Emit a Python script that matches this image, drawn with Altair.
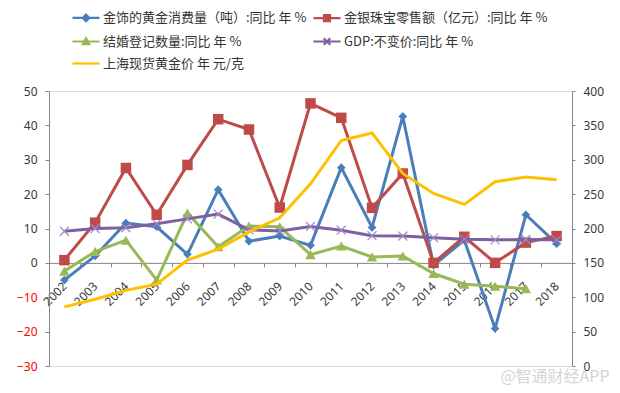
import altair as alt
import pandas as pd

years = [str(y) for y in range(2002, 2019)]
series_names = [
    "金饰的黄金消费量（吨）:同比 年 %",
    "金银珠宝零售额（亿元）:同比 年 %",
    "结婚登记数量:同比 年 %",
    "GDP:不变价:同比 年 %",
    "上海现货黄金价 年 元/克",
]
gold_jewelry = [-5.0, 2.0, 11.6, 10.5, 2.5, 21.3, 6.3, 7.8, 5.1, 27.7, 10.3, 42.6, -0.7, 6.6, -19.1, 14.0, 5.6]
jewelry_retail = [0.8, 11.7, 27.6, 14.0, 28.5, 41.8, 38.8, 16.1, 46.4, 42.2, 16.0, 26.0, 0.0, 7.6, 0.0, 5.9, 7.8]
marriage = [-2.4, 3.3, 6.6, -5.0, 14.5, 4.7, 10.7, 10.5, 2.4, 4.9, 1.7, 2.0, -3.1, -6.2, -6.8, -7.5, None]
gdp = [9.2, 10.0, 10.2, 11.4, 12.8, 14.2, 9.6, 9.3, 10.6, 9.5, 7.9, 7.8, 7.3, 6.9, 6.7, 6.8, 6.7]
gold_price = [86, 97, 110, 119, 154, 170, 195, 215.5, 265, 328, 339, 280, 251, 235, 268, 275, 271]

colors = ["#4A7EBB", "#BE4B48", "#98B954", "#7D60A0", "#FFC000"]
marker_shapes = ["diamond", "square", "triangle-up", "M-1,-1L1,1M-1,1L1,-1"]
marker_sizes = [75, 110, 110, 80]
legend_paths = [
    "M-4.5,0L4.5,0M0,-1.1L1.1,0L0,1.1L-1.1,0Z",
    "M-4.5,0L4.5,0M-1,-1L1,-1L1,1L-1,1Z",
    "M-4.5,0L4.5,0M-1.1,0.9L1.1,0.9L0,-1.1Z",
    "M-4.5,0L4.5,0M-1.1,-1.1L1.1,1.1M-1.1,1.1L1.1,-1.1",
    "M-4.5,0L4.5,0",
]
# legend grid fills column by column: order entries so rows read like the reference
legend_order = [0, 2, 4, 1, 3]
leg_domain = [series_names[k] for k in legend_order]
leg_colors = [colors[k] for k in legend_order]
leg_paths = [legend_paths[k] for k in legend_order]

left_values = [gold_jewelry, jewelry_retail, marriage, gdp]
rows = []
for name, vals in zip(series_names[:4], left_values):
    for yr, v in zip(years, vals):
        rows.append({"year": yr, "series": name, "value": v})
df = pd.DataFrame(rows)
price_df = pd.DataFrame({"year": years, "price": gold_price})

FONT_NUM = "Noto Sans"
FONT_CJK = "Noto Sans CJK SC"
AX = "#868686"

x_axis = alt.Axis(
    title=None, labelAngle=-45, labelAlign="right", labelBaseline="middle",
    tickBand="extent", offset=-103.125, tickSize=4, tickColor=AX, domainColor=AX,
    labelPadding=17, labelFontSize=12, labelFont=FONT_NUM, labelColor="#383838", grid=False,
)
x_enc = alt.X("year:O", scale=alt.Scale(domain=years, paddingInner=0, paddingOuter=0), axis=x_axis)

left_axis = alt.Axis(
    title=None, values=list(range(-30, 51, 10)), tickSize=4, tickColor=AX, domainColor=AX,
    labelPadding=8, labelFontSize=12, labelFont=FONT_NUM, grid=False,
    labelColor=alt.ExprRef(expr="datum.value < 0 ? '#FF0000' : '#383838'"),
)
y_enc = alt.Y("value:Q", scale=alt.Scale(domain=[-30, 50], nice=False, zero=False), axis=left_axis)

layers = []
for i, name in enumerate(series_names[:4]):
    base = alt.Chart(df).transform_filter(alt.datum.series == name)
    line = base.mark_line(strokeWidth=3, color=colors[i]).encode(x=x_enc, y=y_enc)
    layers.append(line)
    if i < 3:
        pts = base.mark_point(shape=marker_shapes[i], size=marker_sizes[i], filled=True, opacity=1,
                              color=colors[i]).encode(x=x_enc, y=y_enc)
    else:
        pts = base.mark_point(shape=marker_shapes[i], size=marker_sizes[i], filled=False, opacity=1,
                              stroke="#9C8BC8", strokeWidth=1.2).encode(x=x_enc, y=y_enc)
    layers.append(pts)

leg_kw = dict(
    title=None, orient="none", legendX=30.5, legendY=-80, columns=2,
    symbolSize=36, symbolStrokeWidth=2.2, labelFontSize=13, labelFont=FONT_CJK,
    labelColor="#333333", labelOffset=10.5, columnPadding=2, rowPadding=7, padding=0, labelLimit=400,
)
legend_layer = alt.Chart(df).transform_filter("false").mark_point(filled=True, opacity=1).encode(
    color=alt.Color("series:N", scale=alt.Scale(domain=leg_domain, range=leg_colors), legend=alt.Legend(**leg_kw)),
    stroke=alt.Stroke("series:N", scale=alt.Scale(domain=leg_domain, range=leg_colors), legend=alt.Legend(**leg_kw)),
    shape=alt.Shape("series:N", scale=alt.Scale(domain=leg_domain, range=leg_paths), legend=alt.Legend(**leg_kw)),
)
layers.append(legend_layer)

left = alt.layer(*layers)

right_axis = alt.Axis(
    title=None, orient="right", values=list(range(0, 401, 50)), tickSize=3, tickColor=AX,
    domainColor=AX, labelPadding=8, labelFontSize=12, labelFont=FONT_NUM, labelColor="#383838", grid=False,
)
price_line = alt.Chart(price_df).mark_line(color="#FFC000", strokeWidth=3).encode(
    x=x_enc,
    y=alt.Y("price:Q", scale=alt.Scale(domain=[0, 400], nice=False, zero=False), axis=right_axis),
)

chart = alt.layer(left, price_line).resolve_scale(y="independent").properties(
    width=523, height=275,
    autosize=alt.AutoSizeParams(type="none"),
    padding={"left": 41, "top": 83, "right": 40, "bottom": 20},
    title=alt.TitleParams(
        text="@智通财经APP", orient="bottom", anchor="end", fontSize=16, font=FONT_CJK,
        fontWeight="normal", color="#d4d4d4", offset=0, dx=6, dy=-3,
    ),
).configure_view(stroke=None).configure(background="white")

chart.save("out.html", embed_options={"renderer": "svg", "actions": False})
